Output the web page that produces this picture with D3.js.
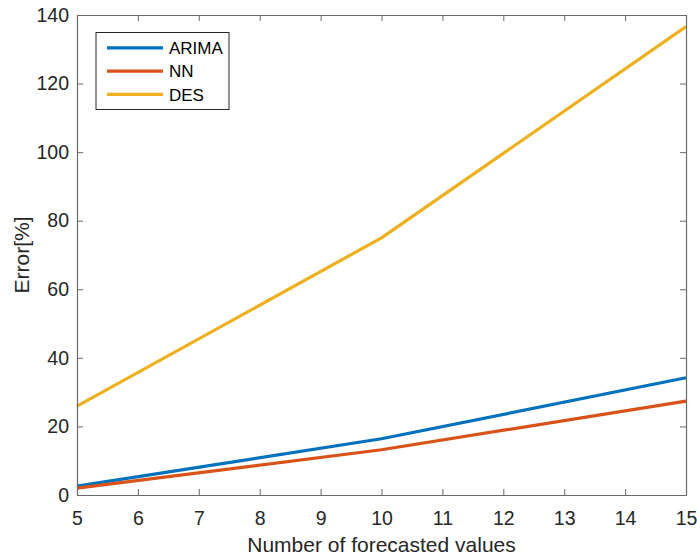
<!DOCTYPE html>
<html>
<head>
<meta charset="utf-8">
<script src="https://cdn.jsdelivr.net/npm/d3@7"></script>
<style>
  html, body { margin: 0; padding: 0; background: #fff; }
  svg { display: block; font-family: "Liberation Sans", Arial, Helvetica, sans-serif; }
</style>
</head>
<body>
<svg id="chart" width="697" height="556"></svg>
<script>
// Forecast horizon (number of forecasted values)
const horizons = [5, 10, 15];
// Error [%] for each method
const arima = [2.6, 16.4, 34.2];
const nn = [2.0, 13.2, 27.4];
const des = [25.9, 75.0, 136.6];
const seriesNames = ["ARIMA", "NN", "DES"];
const seriesColors = ["#0072BD", "#D95319", "#EDB120"];
const xTicks = [5, 6, 7, 8, 9, 10, 11, 12, 13, 14, 15];
const yTicks = [0, 20, 40, 60, 80, 100, 120, 140];

const svg = d3.select("#chart");
const margin = { left: 77, right: 11, top: 15, bottom: 61 };
const W = 697, H = 556;
const x = d3.scaleLinear().domain([5, 15]).range([margin.left, W - margin.right]);
const y = d3.scaleLinear().domain([0, 140]).range([H - margin.bottom, margin.top]);

const axisColor = "#6a6a6a";
const textColor = "#262626";
const tickLen = 6;

// Data lines
const allSeries = [arima, nn, des];
const line = d3.line().x((d, i) => x(horizons[i])).y(d => y(d));
allSeries.forEach((vals, k) => {
  svg.append("path")
    .datum(vals)
    .attr("d", line)
    .attr("fill", "none")
    .attr("stroke", seriesColors[k])
    .attr("stroke-width", 3.2)
    .attr("stroke-linejoin", "round");
});

// Axes: inward ticks on all four sides (boxed)
function styleAxis(g) {
  g.selectAll(".domain").attr("stroke", axisColor).attr("stroke-width", 1.2);
  g.selectAll(".tick line").attr("stroke", axisColor).attr("stroke-width", 1);
  g.selectAll(".tick text").attr("fill", textColor)
    .style("font-size", "19.5px")
    .style("font-family", "Liberation Sans, Arial, sans-serif");
}

const xBottom = svg.append("g")
  .attr("transform", `translate(0,${y(0)})`)
  .call(d3.axisBottom(x).tickValues(xTicks).tickFormat(d3.format("d"))
    .tickSizeInner(-tickLen).tickSizeOuter(0).tickPadding(16));
styleAxis(xBottom);

const xTop = svg.append("g")
  .attr("transform", `translate(0,${y(140)})`)
  .call(d3.axisTop(x).tickValues(xTicks).tickFormat("")
    .tickSizeInner(-tickLen).tickSizeOuter(0));
styleAxis(xTop);

const yLeft = svg.append("g")
  .attr("transform", `translate(${x(5)},0)`)
  .call(d3.axisLeft(y).tickValues(yTicks).tickFormat(d3.format("d"))
    .tickSizeInner(-tickLen).tickSizeOuter(0).tickPadding(8));
styleAxis(yLeft);

const yRight = svg.append("g")
  .attr("transform", `translate(${x(15)},0)`)
  .call(d3.axisRight(y).tickValues(yTicks).tickFormat("")
    .tickSizeInner(-tickLen).tickSizeOuter(0));
styleAxis(yRight);

// Axis titles
svg.append("text")
  .attr("x", (x(5) + x(15)) / 2)
  .attr("y", 552)
  .attr("text-anchor", "middle")
  .attr("fill", textColor)
  .style("font-size", "21px")
  .text("Number of forecasted values");

svg.append("text")
  .attr("transform", `translate(29,${(y(0) + y(140)) / 2}) rotate(-90)`)
  .attr("text-anchor", "middle")
  .attr("fill", textColor)
  .style("font-size", "21px")
  .text("Error[%]");

// Legend
const legend = svg.append("g").attr("transform", "translate(96,32.5)");
legend.append("rect")
  .attr("width", 133).attr("height", 77)
  .attr("fill", "#fff")
  .attr("stroke", "#262626").attr("stroke-width", 1);
seriesNames.forEach((name, k) => {
  const cy = 15.3 + k * 23.3;
  legend.append("line")
    .attr("x1", 11).attr("x2", 67)
    .attr("y1", cy).attr("y2", cy)
    .attr("stroke", seriesColors[k]).attr("stroke-width", 3.2);
  legend.append("text")
    .attr("x", 73).attr("y", cy)
    .attr("dy", "0.36em")
    .attr("fill", "#000")
    .style("font-size", "17px")
    .text(name);
});
</script>
</body>
</html>
